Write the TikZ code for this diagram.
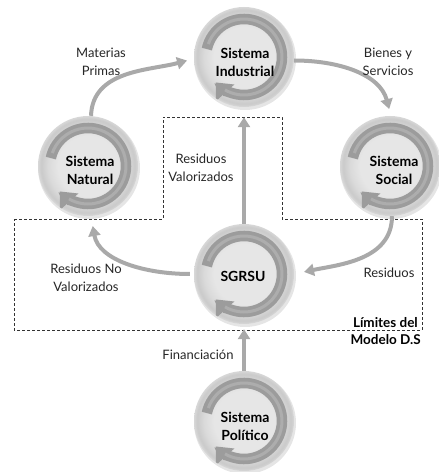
\documentclass[tikz,border=0pt]{standalone}
\usepackage{fontspec}
\setmainfont{Lato}
\usetikzlibrary{arrows.meta}
\definecolor{flowc}{HTML}{A9A9A9}
\definecolor{ringc}{HTML}{9C9C9C}
\definecolor{ringl}{HTML}{ADADAD}
\definecolor{discA}{HTML}{E6E6E6}
\definecolor{discB}{HTML}{DADADA}
\definecolor{discC}{HTML}{CACACA}
\definecolor{discD}{HTML}{D8D8D8}
\pgfdeclareradialshading{discshade}{\pgfpoint{0bp}{0bp}}{color(0bp)=(discA); color(15bp)=(discA); color(20bp)=(discB); color(23.5bp)=(discC); color(25bp)=(discD); color(50bp)=(discD)}
\tikzset{
  disc/.style={circle, minimum size=100pt, inner sep=0pt, shading=discshade,
    path picture={
      \draw[ringc, line width=10.5pt, -{Triangle[width=24pt,length=14pt]}]
        ([shift={(168:38pt)}]path picture bounding box.center)
        arc[start angle=168, end angle=-138, radius=38pt];
      \draw[ringl, line width=3pt]
        ([shift={(160:38pt)}]path picture bounding box.center)
        arc[start angle=160, end angle=-120, radius=38pt];
    }},
  disctext/.style={font=\fontsize{14}{18}\selectfont\bfseries, align=center},
  discshadow/.style={fill=black, opacity=0.10},
  flow/.style={draw=flowc, line width=4pt, -{Triangle[width=12pt,length=10pt]}},
  lbl/.style={font=\fontsize{13}{18}\selectfont, align=center, text=black!85},
  bound/.style={draw=black!80, dashed, line width=0.7pt, dash pattern=on 3pt off 2pt}
}
\begin{document}
\begin{tikzpicture}[x=1pt,y=1pt]
\useasboundingbox (0,0) rectangle (439,472);
% shadows
\foreach \p in {(244,415),(88,306),(390,306),(244,198),(244,51)}{
  \fill[discshadow] \p ++(1,-2) circle[radius=51];
}
\node[disc] (ind) at (244,415) {};
\node[disc] (nat) at (88,306) {};
\node[disc] (soc) at (390,306) {};
\node[disc] (sg) at (244,198) {};
\node[disc] (pol) at (244,51) {};
\node[disctext] (indt) at (245,410) {Sistema\\Industrial};
\node[disctext] (natt) at (90,302) {Sistema\\Natural};
\node[disctext] (soct) at (394,302) {Sistema\\Social};
\node[disctext] (sgt) at (243,196) {SGRSU};
\node[disctext] (polt) at (245,46) {Sistema\\Político};
% boundary
\draw[bound] (14,253) -- (163,253) -- (163,355) -- (282,355) -- (282,253) -- (422,253) -- (422,142) -- (14,142) -- cycle;
% flows
\draw[flow, shorten >=7pt] ([xshift=3pt]nat.north) to[out=88, in=195] (ind.182);
\draw[flow, shorten >=7pt] (ind.356) to[out=0, in=105] ([xshift=1pt]soc.north);
\draw[flow, shorten >=10pt] ([xshift=2pt]soc.south) to[out=-90, in=12] (sg.east);
\draw[flow, shorten >=10pt] ([xshift=-4pt]sg.west) to[out=180, in=-80] ([xshift=3pt]nat.south);
\draw[flow, shorten >=10pt] (sg.north) -- (ind.south);
\draw[flow, shorten >=5pt] (pol.north) -- (sg.south);
% labels
\node[lbl] (lmat) at (101,410) {Materias\\Primas};
\node[lbl] (lbie) at (388,410) {Bienes y\\Servicios};
\node[lbl] (lrv) at (201,304) {Residuos\\Valorizados};
\node[lbl] (lrnv) at (86,194) {Residuos No\\Valorizados};
\node[lbl] (lres) at (389,199) {Residuos};
\node[lbl] (lfin) at (198,117) {Financiación};
\node[font=\fontsize{13.5}{17}\selectfont\bfseries, anchor=east, inner sep=1pt] (llim1) at (419,149) {Límites del};
\node[font=\fontsize{13.5}{17}\selectfont\bfseries, anchor=east, inner sep=1pt] (llim2) at (422,132) {Modelo D.S};
\end{tikzpicture}
\end{document}
